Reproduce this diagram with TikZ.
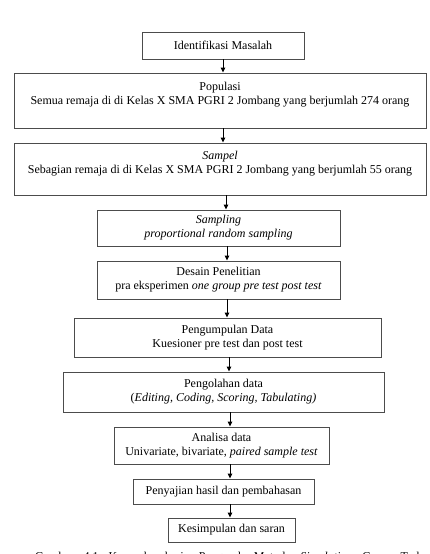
\documentclass[tikz,border=0pt]{standalone}
\usepackage{fontspec}
\setmainfont{Liberation Serif}
\usepackage{tikz}
\usetikzlibrary{positioning,calc,arrows.meta}

\tikzset{
    box/.style={draw=black!70, line width=0.9pt, align=center, inner sep=0pt, font=\fontsize{12}{14}\selectfont},
    arr/.style={-{Triangle[length=5pt,width=4.5pt]}, line width=0.9pt}
}

\begin{document}
\begin{tikzpicture}[x=1pt,y=-1pt]
    \useasboundingbox (0,0) rectangle (429,554);

    % flow boxes
    \node[box, minimum width=162pt, minimum height=27pt] (idm) at (223,45.5) {Identifikasi Masalah};
    \node[box, minimum width=412pt, minimum height=55pt] (pop) at (220,100.5)
        {Populasi\\Semua remaja di di Kelas X SMA PGRI 2 Jombang yang berjumlah 274 orang\\\mbox{}};
    \node[box, minimum width=412pt, minimum height=52pt] (smp) at (220,169)
        {\textit{Sampel}\\Sebagian remaja di di Kelas X SMA PGRI 2 Jombang yang berjumlah 55 orang\\\mbox{}};
    \node[box, minimum width=243pt, minimum height=36pt] (sam) at (218.5,228)
        {\textit{Sampling}\\\textit{proportional random sampling}};
    \node[box, minimum width=243pt, minimum height=38pt] (des) at (218.5,280)
        {Desain Penelitian\\pra eksperimen \textit{one group pre test post test}};
    \node[box, minimum width=307pt, minimum height=39pt] (pgd) at (227.5,337.5)
        {Pengumpulan Data\\Kuesioner pre test dan post test};
    \node[box, minimum width=321pt, minimum height=40pt] (olh) at (223.5,392)
        {Pengolahan data\\(\textit{Editing, Coding, Scoring, Tabulating)}};
    \node[box, minimum width=215pt, minimum height=37pt] (ana) at (221.5,445.5)
        {Analisa data\\Univariate, bivariate, \textit{paired sample test}};
    \node[box, minimum width=181pt, minimum height=25pt] (pny) at (223.5,491.5)
        {Penyajian hasil dan pembahasan};
    \node[box, minimum width=127pt, minimum height=24pt] (ksm) at (231.5,530)
        {Kesimpulan dan saran};

    % arrows
    \draw[arr] (idm.south -| 223,0) -- (pop.north -| 223,0);
    \draw[arr] (pop.south -| 223,0) -- (smp.north -| 223,0);
    \draw[arr] (smp.south -| 226,0) -- (sam.north -| 226,0);
    \draw[arr] (sam.south -| 227,0) -- (des.north -| 227,0);
    \draw[arr] (des.south -| 227,0) -- (pgd.north -| 227,0);
    \draw[arr] (pgd.south -| 229,0) -- (olh.north -| 229,0);
    \draw[arr] (olh.south -| 230,0) -- (ana.north -| 230,0);
    \draw[arr] (ana.south -| 230,0) -- (pny.north -| 230,0);
    \draw[arr] (pny.south -| 230,0) -- (ksm.north -| 230,0);

    % caption, cut by the page edge
    \node[anchor=base west, inner sep=0pt, font=\fontsize{12}{14}\selectfont] (cap) at (35,560)
        {\makebox[410pt][s]{Gambar 4.1 Kerangka kerja Pengaruh Metode \textit{Simulation} Game Terhadap}};
\end{tikzpicture}
\end{document}
